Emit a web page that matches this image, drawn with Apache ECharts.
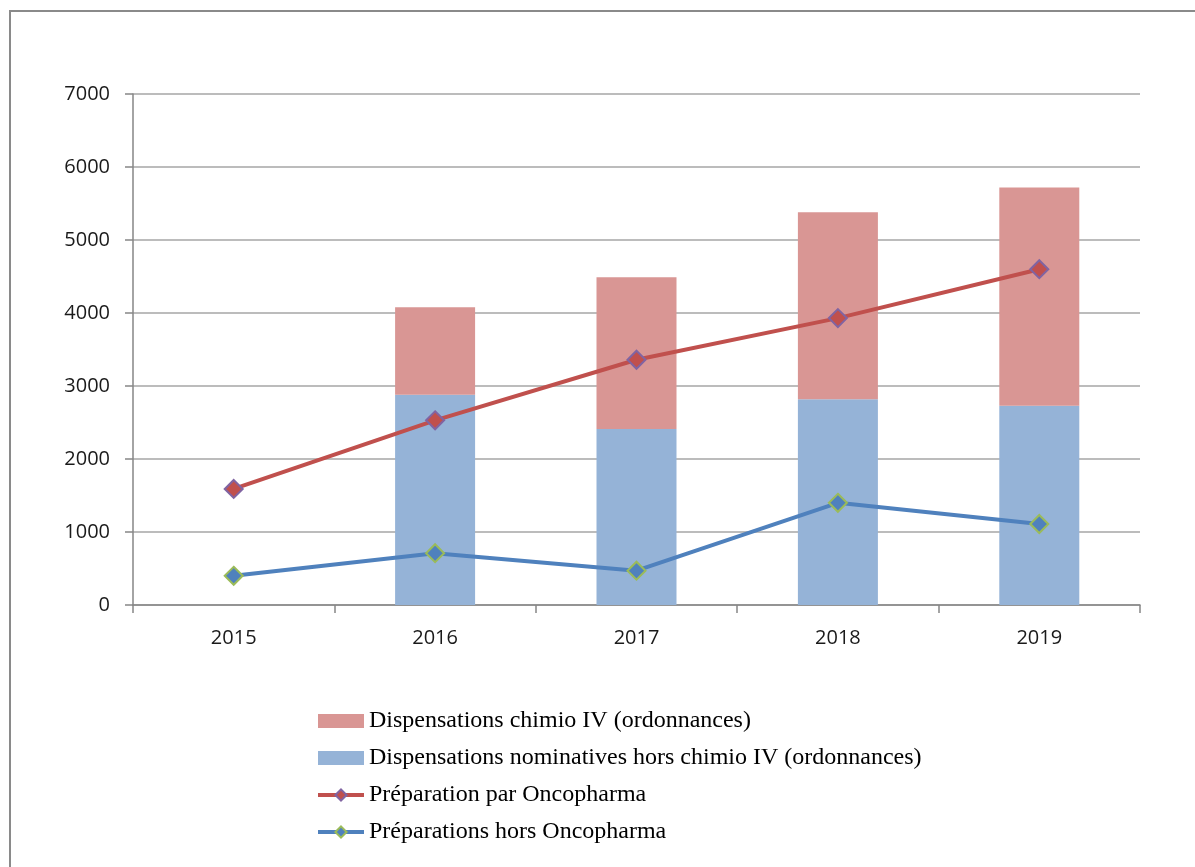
<!DOCTYPE html>
<html>
<head>
<meta charset="utf-8">
<script src="https://cdn.jsdelivr.net/npm/echarts@6/dist/echarts.min.js"></script>
<style>
html,body{margin:0;padding:0;background:#fff;overflow:hidden;width:1195px;height:867px;}
#frame{position:absolute;left:9px;top:10px;width:1220px;height:900px;border:2px solid #8a8a8a;box-sizing:border-box;}
#c{position:absolute;left:0;top:0;width:1195px;height:867px;}
</style>
</head>
<body>
<div id="frame"></div>
<div id="c"></div>
<script>
const years = ['2015','2016','2017','2018','2019'];
const chimioIV = [null, 1200, 2080, 2560, 2990];
const horsChimioIV = [null, 2880, 2410, 2820, 2730];
const prepOnco = [1590, 2530, 3360, 3930, 4600];
const prepHorsOnco = [400, 710, 470, 1400, 1110];
const yTicks = [0, 1000, 2000, 3000, 4000, 5000, 6000, 7000];

const chart = echarts.init(document.getElementById('c'));
chart.setOption({
  animation: false,
  backgroundColor: 'transparent',
  grid: {left: 133, right: 55, top: 94, bottom: 262, containLabel: false},
  legend: {
    orient: 'vertical',
    left: 311,
    top: 704,
    itemWidth: 46,
    itemHeight: 14,
    itemGap: 13,
    textStyle: {fontFamily: 'Liberation Serif', fontSize: 24, color: '#000'},
    data: [
      {name: 'Dispensations chimio IV (ordonnances)', icon: 'rect'},
      {name: 'Dispensations nominatives hors chimio IV (ordonnances)', icon: 'rect'},
      {name: 'Préparation par Oncopharma', lineStyle: {width: 4}},
      {name: 'Préparations hors Oncopharma', lineStyle: {width: 4}}
    ]
  },
  xAxis: {
    type: 'category',
    data: years,
    boundaryGap: true,
    axisLine: {lineStyle: {color: '#868686', width: 1.5}},
    axisTick: {show: true, length: 8, alignWithLabel: false, lineStyle: {color: '#868686', width: 1.5}},
    axisLabel: {fontFamily: 'Open Sans', fontSize: 20, color: '#1a1a1a', margin: 23}
  },
  yAxis: {
    type: 'value',
    min: yTicks[0],
    max: yTicks[yTicks.length - 1],
    interval: 1000,
    axisLine: {show: true, lineStyle: {color: '#868686', width: 1.5}},
    axisTick: {show: true, length: 8, lineStyle: {color: '#868686', width: 1.5}},
    axisLabel: {fontFamily: 'Open Sans', fontSize: 20, color: '#1a1a1a', margin: 23, formatter: v => String(v)},
    splitLine: {lineStyle: {color: '#a6a6a6', width: 1.5}}
  },
  series: [
    {
      name: 'Dispensations nominatives hors chimio IV (ordonnances)',
      type: 'bar', stack: 'total', data: horsChimioIV, barWidth: 80,
      itemStyle: {color: '#95B3D7'}, z: 1
    },
    {
      name: 'Dispensations chimio IV (ordonnances)',
      type: 'bar', stack: 'total', data: chimioIV, barWidth: 80,
      itemStyle: {color: '#D99694'}, z: 1
    },
    {
      name: 'Préparation par Oncopharma',
      type: 'line', data: prepOnco,
      symbol: 'diamond', symbolSize: 18, showAllSymbol: true,
      lineStyle: {color: '#C0504D', width: 4},
      itemStyle: {color: '#C0504D', borderColor: '#8064A2', borderWidth: 2},
      z: 3
    },
    {
      name: 'Préparations hors Oncopharma',
      type: 'line', data: prepHorsOnco,
      symbol: 'diamond', symbolSize: 18, showAllSymbol: true,
      lineStyle: {color: '#4F81BD', width: 4},
      itemStyle: {color: '#4F81BD', borderColor: '#9BBB59', borderWidth: 2},
      z: 3
    }
  ]
});
</script>
</body>
</html>
